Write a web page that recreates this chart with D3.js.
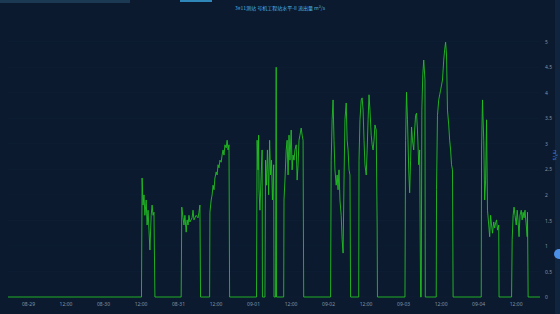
<!DOCTYPE html>
<html>
<head>
<meta charset="utf-8">
<title>Flow Chart</title>
<style>
  body { margin: 0; background-color: #0b1a2e; }
  svg { display: block; }
  .axis text { font: 5px "Noto Sans", sans-serif; fill: #7f93a9; }
  .axis path, .axis line { display: none; }
  .title { font: 5px "Noto Sans CJK SC", sans-serif; fill: #4fb6e6; text-anchor: middle; }
</style>
</head>
<body>
<svg id="chart" width="560" height="314"></svg>
<script src="https://d3js.org/d3.v7.min.js"></script>
<script>
// hours after 08-29 00:00
var hours = [-6.4, 36.3,
  36.5, 36.8, 37.1, 37.4, 37.8, 38.1, 38.4, 38.7, 39.0, 39.4, 39.7, 40.0, 40.3, 40.6,
  49.0, 49.2, 49.6, 49.9, 50.2, 50.6, 50.9, 51.2, 51.5, 51.8, 52.5, 52.8, 53.1, 53.8, 54.4, 54.7, 55.0, 55.2,
  58.1, 58.2, 58.6, 58.9, 59.2, 59.5, 59.8, 60.2, 60.5, 60.8, 61.1, 61.4, 61.8, 62.1, 62.4, 62.7, 63.0, 63.4, 63.7, 64.0, 64.3, 64.5,
  73.1, 73.3, 73.6, 73.8, 73.9, 74.2, 74.6, 74.9, 75.0,
  75.8, 76.0, 76.3, 76.6, 77.0, 77.3, 77.6, 77.9, 78.2, 78.6, 78.7,
  79.2, 79.4, 79.5,
  81.8, 81.9, 82.2, 82.6, 82.9, 83.2, 83.5, 83.8, 84.2, 84.5, 84.8, 85.1, 85.4, 85.8, 86.1, 86.4, 86.7, 87.0, 87.4, 87.7, 88.0, 88.2,
  96.8, 97.0, 97.3, 97.6, 97.9, 98.2, 98.6, 98.9, 99.2, 99.5, 99.8, 100.2, 100.5, 100.8, 101.1, 101.4, 101.8, 102.1, 102.4, 102.7, 103.0, 103.2,
  105.8, 105.9, 106.2, 106.6, 106.9, 107.2, 107.5, 107.8, 108.2, 108.5, 108.8, 109.1, 109.4, 109.8, 110.1, 110.4, 110.7, 111.0, 111.4, 111.7, 111.8,
  120.6, 120.8, 121.1, 121.4, 121.8, 122.1, 122.4, 122.7, 123.0, 123.4, 123.7, 124.0, 124.3, 124.6, 125.0, 125.3, 125.6,
  125.8, 126.0, 126.3, 126.6, 127.0, 127.1,
  130.6, 130.7, 131.0, 131.4, 131.7, 132.0, 132.3, 132.6, 133.0, 133.3, 133.6, 133.9, 134.2, 134.6, 134.9, 135.2, 135.5, 135.8, 136.0,
  145.0, 145.1, 145.4, 145.8, 146.1, 146.4, 146.7, 147.0, 147.4, 147.7, 148.0, 148.3, 148.6, 149.0, 149.3, 149.6, 149.9, 150.2, 150.6, 150.7,
  154.7, 154.9, 155.2, 155.5, 155.8, 156.2, 156.5, 156.8, 157.1, 157.4, 157.8, 158.1, 158.4, 158.7, 159.0, 159.4, 159.7, 159.8, 160.0,
  163.8];

var flow = [0, 0,
  2.33, 1.8, 2.0, 1.6, 1.9, 1.41, 1.7, 1.31, 0.92, 1.6, 1.8, 1.6, 1.66, 0,
  0, 1.76, 1.55, 1.41, 1.6, 1.27, 1.51, 1.41, 1.6, 1.47, 1.55, 1.7, 1.51, 1.6, 1.55, 1.66, 1.8, 0,
  0, 1.66, 1.9, 2.0, 2.19, 2.1, 2.33, 2.45, 2.39, 2.59, 2.53, 2.68, 2.64, 2.78, 2.88, 2.78, 2.98, 2.92, 3.07, 2.88, 2.98, 0,
  0, 3.07, 2.49, 3.17, 2.1, 1.7, 2.39, 2.88, 0,
  0, 2.68, 2.19, 2.88, 2.0, 3.07, 2.39, 2.68, 1.9, 2.59, 0,
  0, 4.5, 0,
  0, 1.9, 2.29, 2.88, 3.07, 2.39, 3.17, 2.68, 3.27, 2.49, 2.78, 2.68, 2.88, 2.98, 2.29, 2.59, 3.07, 3.17, 3.31, 3.17, 3.07, 0,
  0, 2.68, 3.47, 3.86, 3.07, 2.49, 2.19, 2.39, 2.1, 2.49, 1.9, 1.6, 1.12, 0.86, 2.29, 3.47, 3.8, 3.07, 2.88, 2.49, 2.39, 0,
  0, 2.68, 3.47, 3.86, 3.9, 3.66, 3.07, 2.59, 2.39, 2.88, 3.47, 3.96, 3.66, 3.17, 2.98, 2.88, 3.07, 3.37, 3.27, 1.41, 0,
  0, 3.07, 4.01, 3.47, 2.49, 2.04, 2.68, 3.33, 3.07, 2.88, 3.27, 3.56, 3.6, 3.27, 2.59, 2.88, 0,
  0, 3.66, 4.35, 4.64, 4.25, 0,
  0, 2.1, 3.56, 3.86, 3.96, 4.05, 4.15, 4.25, 4.64, 4.84, 4.99, 4.74, 3.66, 3.37, 3.07, 2.88, 2.59, 2.49, 0,
  0, 2.88, 3.86, 3.07, 1.9, 2.29, 3.47, 1.7, 1.41, 1.18, 1.6, 1.41, 1.25, 1.47, 1.35, 1.45, 1.51, 1.31, 1.41, 0,
  0, 1.12, 1.6, 1.76, 1.6, 1.41, 1.7, 1.47, 1.18, 1.6, 1.7, 1.51, 1.66, 1.55, 1.7, 1.41, 1.18, 1.66, 0,
  0];

var yTicks = [0, 0.5, 1, 1.5, 2, 2.5, 3, 3.5, 4, 4.5, 5];
var chartTitle = "3#11测站 号机工程站水平-II 流出量 m³/s";
var unitLabel = "m³/s";

var base = new Date(2023, 7, 29, 0, 0);
var data = hours.map(function(h, i) {
  return { t: new Date(base.getTime() + h * 3600000), v: flow[i] };
});

var svg = d3.select("#chart");

// decoration strips
svg.append("rect").attr("x", 0).attr("y", 0).attr("width", 130).attr("height", 3).attr("fill", "#1c3954");
svg.append("rect").attr("x", 180).attr("y", 0).attr("width", 32).attr("height", 2).attr("fill", "#2f86b8");
svg.append("rect").attr("x", 555).attr("y", 0).attr("width", 5).attr("height", 314).attr("fill", "#10243e");
svg.append("circle").attr("cx", 559).attr("cy", 254).attr("r", 5).attr("fill", "#4b8fe6");

var x = d3.scaleTime()
  .domain([new Date(base.getTime() - 6.4 * 3600000), new Date(base.getTime() + 163.8 * 3600000)])
  .range([8, 540]);

var y = d3.scaleLinear()
  .domain([0, 5])
  .range([297, 41.7]);

// faint grid
svg.append("g").selectAll("line")
  .data(yTicks)
  .enter().append("line")
  .attr("x1", 8).attr("x2", 540)
  .attr("y1", function(d) { return y(d); })
  .attr("y2", function(d) { return y(d); })
  .attr("stroke", "#11223a")
  .attr("stroke-width", 0.5);

var fmt = function(d) {
  return d.getHours() === 0 ? d3.timeFormat("%m-%d")(d) : d3.timeFormat("%H:%M")(d);
};

var xAxis = d3.axisBottom(x)
  .ticks(d3.timeHour.every(12))
  .tickFormat(fmt)
  .tickSize(0)
  .tickPadding(5);

svg.append("g")
  .attr("class", "x axis")
  .attr("transform", "translate(0,297)")
  .call(xAxis);

var yAxis = d3.axisRight(y)
  .tickValues(yTicks)
  .tickFormat(d3.format("~g"))
  .tickSize(0)
  .tickPadding(5);

svg.append("g")
  .attr("class", "y axis")
  .attr("transform", "translate(540,0)")
  .call(yAxis);

var line = d3.line()
  .x(function(d) { return x(d.t); })
  .y(function(d) { return y(d.v); });

svg.append("path")
  .datum(data)
  .attr("fill", "none")
  .attr("stroke", "#22c022")
  .attr("stroke-width", 0.9)
  .attr("d", line);

svg.append("text")
  .attr("class", "title")
  .attr("x", 280)
  .attr("y", 10)
  .text(chartTitle);

svg.append("text")
  .attr("transform", "translate(553,155) rotate(90)")
  .attr("text-anchor", "middle")
  .attr("fill", "#4b8fe6")
  .style("font", "5px 'Noto Sans', sans-serif")
  .text(unitLabel);
</script>
</body>
</html>
